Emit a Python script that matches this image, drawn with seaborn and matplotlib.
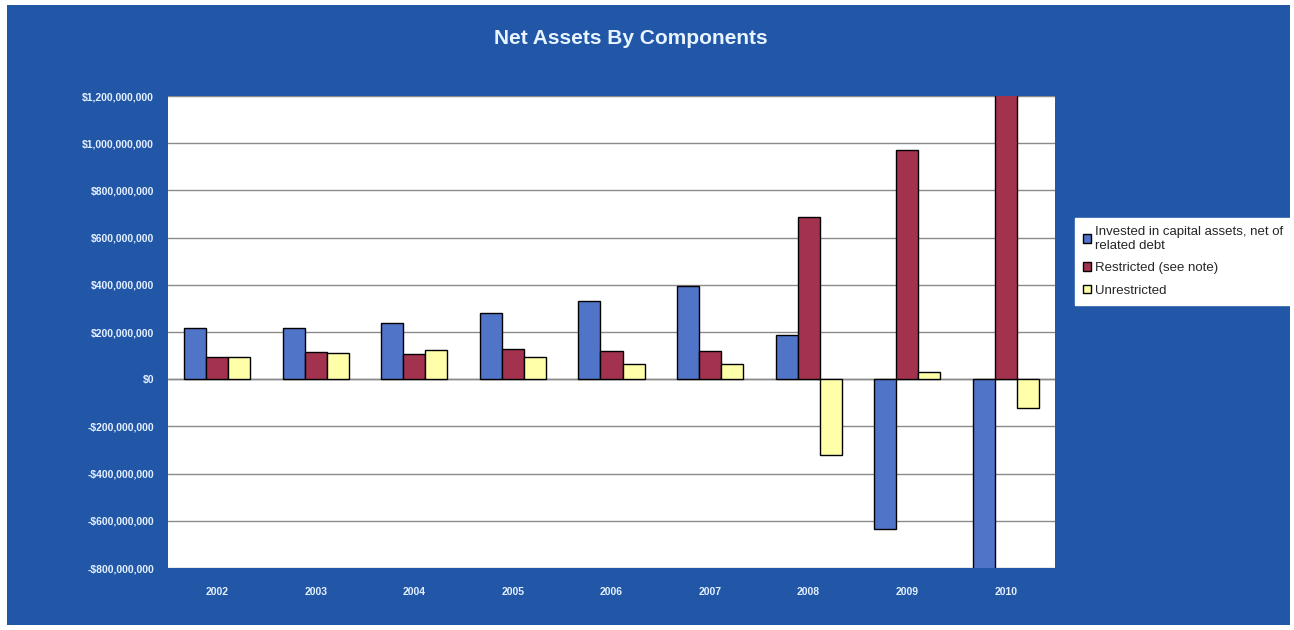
import pandas as pd
import numpy as np
import matplotlib
matplotlib.use("Agg")
import matplotlib.pyplot as plt
import seaborn as sns
from matplotlib.patches import Rectangle, Patch
from matplotlib.ticker import FuncFormatter

years = ["2002", "2003", "2004", "2005", "2006", "2007", "2008", "2009", "2010"]
invested = [215e6, 216e6, 237e6, 280e6, 330e6, 395e6, 187e6, -635e6, -850e6]
restricted = [93e6, 114e6, 106e6, 127e6, 120e6, 120e6, 688e6, 972e6, 1250e6]
unrestricted = [95e6, 110e6, 123e6, 93e6, 64e6, 63e6, -321e6, 32e6, -122e6]

series_names = ["Invested in capital assets, net of\nrelated debt",
                "Restricted (see note)",
                "Unrestricted"]
colors = ["#4F74C8", "#A3324F", "#FFFFAA"]

df = pd.DataFrame({
    "Year": years * 3,
    "Component": [series_names[0]] * 9 + [series_names[1]] * 9 + [series_names[2]] * 9,
    "Value": invested + restricted + unrestricted,
})

sns.set_style("white")
plt.rcParams["font.family"] = ["Liberation Sans", "DejaVu Sans"]

bg = "#2257A8"
fig = plt.figure(figsize=(12.94, 6.30), dpi=100, facecolor="white")
fig.patches.append(Rectangle((7 / 1294, 5 / 630), 1283 / 1294, 620 / 630,
                             transform=fig.transFigure, facecolor=bg,
                             edgecolor="none", zorder=-10))

ax = fig.add_axes([168 / 1294, 1 - 568 / 630, 887 / 1294, 472 / 630])
ax.set_zorder(1)
ax.set_facecolor("white")

sns.barplot(data=df, x="Year", y="Value", hue="Component", palette=colors,
            saturation=1, width=0.67, edgecolor="black", linewidth=1, ax=ax,
            legend=False)

ax.set_ylim(-800e6, 1200e6)
ax.set_yticks(np.arange(-800e6, 1200e6 + 1, 200e6))
ax.yaxis.set_major_formatter(FuncFormatter(
    lambda v, p: ("-$" if v < 0 else "$") + f"{abs(v):,.0f}"))
ax.yaxis.grid(True, color="#8A8A8A", linewidth=1)
ax.set_axisbelow(True)
ax.axhline(0, color="#6A6A6A", linewidth=1, zorder=0.5)
for s in ax.spines.values():
    s.set_visible(False)

ax.tick_params(axis="y", length=0, pad=10, labelsize=7.5, labelcolor="#E4F0FF")
ax.tick_params(axis="x", length=0, pad=14, labelsize=7.5, labelcolor="#E4F0FF")
for lbl in ax.get_xticklabels() + ax.get_yticklabels():
    lbl.set_fontweight("bold")
ax.set_xlabel("")
ax.set_ylabel("")

fig.text(631 / 1294, 1 - 38 / 630, "Net Assets By Components", ha="center",
         va="center", color="#E8F4FF", fontsize=15, fontweight="bold")

handles = [Patch(facecolor=c, edgecolor="black", linewidth=1) for c in colors]
leg = fig.legend(handles, series_names, loc="upper left",
                 bbox_to_anchor=(1075 / 1294, 1 - 218 / 630),
                 frameon=True, fancybox=False, framealpha=1, fontsize=9.5,
                 handlelength=0.6, handleheight=0.6, handletextpad=0.3,
                 labelspacing=0.8, borderpad=0.6, borderaxespad=0)
leg.set_zorder(5)
leg.get_frame().set_facecolor("white")
leg.get_frame().set_edgecolor("white")

fig.savefig("out.png", dpi=100, facecolor=fig.get_facecolor())
